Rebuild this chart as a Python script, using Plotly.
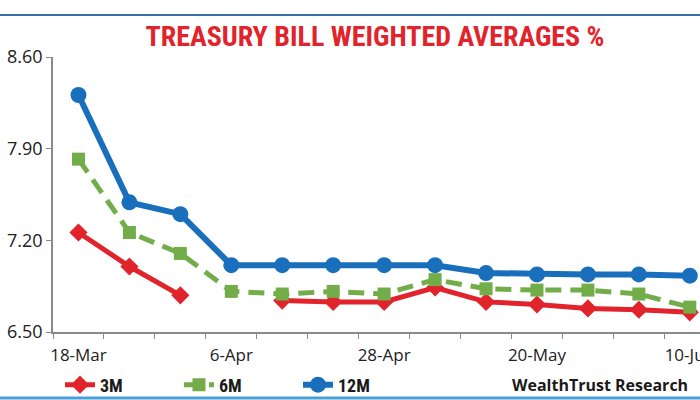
import plotly.graph_objects as go

# auction dates (only every 3rd one is labelled on the axis)
dates = ["18-Mar", "25-Mar", "1-Apr", "6-Apr", "15-Apr", "22-Apr", "28-Apr",
         "6-May", "13-May", "20-May", "27-May", "3-Jun", "10-Jun"]

# weighted average yields, %
bill_3m = [7.26, 7.00, 6.78, None, 6.74, 6.73, 6.73, 6.84, 6.73, 6.71, 6.68, 6.67, 6.65]
bill_6m = [7.82, 7.26, 7.10, 6.81, 6.79, 6.81, 6.79, 6.90, 6.83, 6.82, 6.82, 6.79, 6.69]
bill_12m = [8.31, 7.49, 7.40, 7.01, 7.01, 7.01, 7.01, 7.01, 6.95, 6.94, 6.94, 6.94, 6.93]

y_ticks = [6.50, 7.20, 7.90, 8.60]

tick_text = [d if i % 3 == 0 else "" for i, d in enumerate(dates)]

narrow = "Liberation Sans Narrow, Roboto Condensed, Arial Narrow, sans-serif"

fig = go.Figure()

fig.add_trace(go.Scatter(
    x=dates, y=bill_3m, name="3M", mode="lines+markers",
    line=dict(color="#e1232b", width=5),
    marker=dict(symbol="diamond", size=14, color="#e1232b"),
    connectgaps=False,
))
fig.add_trace(go.Scatter(
    x=dates, y=bill_6m, name="6M", mode="lines+markers",
    line=dict(color="#72ad4a", width=5, dash="16px,9px"),
    marker=dict(symbol="square", size=13, color="#72ad4a"),
))
fig.add_trace(go.Scatter(
    x=dates, y=bill_12m, name="12M", mode="lines+markers",
    line=dict(color="#1a6fbd", width=6),
    marker=dict(symbol="circle", size=16, color="#1a6fbd"),
))

fig.update_layout(
    width=700, height=400,
    template="none",
    paper_bgcolor="white", plot_bgcolor="white",
    margin=dict(l=53, r=0, t=57, b=68),
    title=dict(
        text="<b>TREASURY BILL WEIGHTED AVERAGES %</b>",
        font=dict(family=narrow, size=28, color="#e1232b"),
        xref="container", yref="container",
        x=375 / 700, xanchor="center", y=1 - 36 / 400, yanchor="middle",
    ),
    showlegend=True,
    legend=dict(
        orientation="h",
        xref="container", yref="container",
        x=60 / 700, xanchor="left", y=1 - 385 / 400, yanchor="middle",
        entrywidth=74, entrywidthmode="pixels",
        font=dict(family=narrow, size=18, color="#1a1a1a", weight="bold"),
        bgcolor="rgba(0,0,0,0)",
        itemclick=False,
    ),
    xaxis=dict(
        type="category",
        range=[-0.5, 12.2],
        tickvals=dates, ticktext=tick_text, tickangle=0,
        tickson="boundaries",
        ticks="outside", ticklen=5, tickcolor="#8a8a8a",
        ticklabelstandoff=7,
        showline=True, linecolor="#8a8a8a", linewidth=1.5,
        showgrid=False, zeroline=False,
        automargin=False,
        tickfont=dict(family="Open Sans, sans-serif", size=17, color="#222222"),
    ),
    yaxis=dict(
        range=[6.5, 8.6],
        tickvals=y_ticks, tickformat=".2f",
        ticks="outside", ticklen=5, tickcolor="#8a8a8a",
        showline=True, linecolor="#8a8a8a", linewidth=1.5,
        showgrid=False, zeroline=False,
        automargin=False,
        tickfont=dict(family="Open Sans, sans-serif", size=18, color="#222222"),
    ),
    shapes=[
        dict(type="line", xref="paper", yref="paper", layer="above",
             x0=-53 / 647, x1=1, y0=(332 - 15) / 275, y1=(332 - 15) / 275,
             line=dict(color="#3b6fa3", width=2)),
        dict(type="line", xref="paper", yref="paper", layer="above",
             x0=-53 / 647, x1=1, y0=(332 - 398) / 275, y1=(332 - 398) / 275,
             line=dict(color="#4a9fd8", width=3)),
    ],
    annotations=[
        dict(text="<b>WealthTrust Research</b>", showarrow=False,
             xref="paper", yref="paper",
             x=(690 - 53) / 647, xanchor="right",
             y=(332 - 385) / 275, yanchor="middle",
             font=dict(family="Open Sans, sans-serif", size=16, color="#1a1a1a")),
    ],
)

fig.write_html("out.html", config={"displayModeBar": False},
               post_script="document.body.style.margin='0';")
